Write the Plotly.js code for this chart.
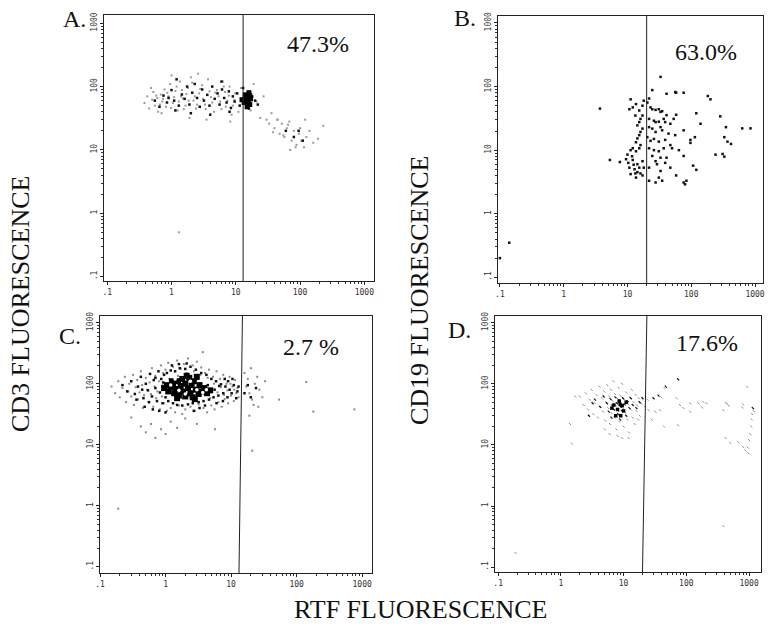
<!DOCTYPE html>
<html>
<head>
<meta charset="utf-8">
<script src="https://cdn.plot.ly/plotly-3.0.1.min.js"></script>
<style>html,body{margin:0;padding:0;background:#fff;}#chart{width:778px;height:629px;}</style>
</head>
<body>
<div id="chart"></div>
<script>
// ---- Data (RTF fluorescence, CD3/CD19 fluorescence) ----
const tickValues = [0.1, 1, 10, 100, 1000];
const tickLabels = ['.1', '1', '10', '100', '1000'];
const minorTicks = [0.2,0.3,0.4,0.5,0.6,0.7,0.8,0.9,2,3,4,5,6,7,8,9,20,30,40,50,60,70,80,90,200,300,400,500,600,700,800,900];

const panelLabels = ['A.', 'B.', 'C.', 'D.'];
const percentLabels = ['47.3%', '63.0%', '2.7 %', '17.6%'];
const gates = [[13, 13], [20, 20], [13.2, 14.9], [20, 23.5]]; // RTF gate, [bottom, top]

// Panel A (CD3 vs RTF)
const aLight = [[0.38,55],[0.42,70],[0.45,45],[0.5,62],[0.52,82],[0.55,50],[0.6,66],[0.62,40],[0.68,75],[0.72,58],[0.78,90],[0.82,48],[0.9,70],[0.95,110],[1.05,55],[1.15,85],[1.25,42],[1.35,120],[1.5,65],[1.65,50],[1.8,95],[2.0,140],[2.2,60],[2.4,45],[2.7,78],[3.0,105],[3.3,52],[3.7,130],[4.1,68],[4.6,40],[5.1,88],[5.7,58],[6.3,120],[7.0,48],[7.8,72],[8.6,36],[9.5,62],[0.48,95],[0.7,38],[1.0,150],[1.4,70],[1.9,32],[2.6,160],[3.5,30],[4.8,80],[6.5,100],[8.2,28],
[0.58,72],[0.66,52],[0.74,64],[0.86,80],[0.98,46],[1.1,68],[1.2,100],[1.3,58],[1.45,88],[1.55,44],[1.7,76],[1.85,60],[2.1,115],[2.3,70],[2.5,52],[2.8,92],[3.1,64],[3.4,44],[3.9,84],[4.3,56],[5.4,70],[6.0,44],[6.8,82],[7.4,60],[8.0,100],[9.0,50],[9.8,78],
[11,40],[12,95],[17,42],[19,110],[21,58],[24,32],[27,70],[30,30],[33,26],[36,38],[40,22],[44,30],[48,18],[52,26],[57,16],[62,22],[68,28],[74,14],[80,20],[88,12],[96,18],[105,14],[115,11],[125,16],[140,20],[160,13],[190,15],[230,24],[45,30],[55,17],[65,25],[85,11],[100,22],[70,10],[38,19],[120,30],[1.3,0.5]];
const aDark = [[0.55,60],[0.65,48],[0.75,72],[0.85,56],[1.0,88],[1.1,60],[1.2,130],[1.3,50],[1.45,75],[1.6,64],[1.75,100],[1.9,52],[2.1,80],[2.3,110],[2.5,66],[2.75,48],[3.0,90],[3.2,60],[3.6,74],[3.9,50],[4.3,100],[4.7,64],[5.2,78],[5.6,52],[6.1,90],[6.6,66],[7.2,56],[7.8,84],[8.4,46],[9.0,70],[9.6,58],[10.5,78],[11.5,50],[13,95],[16,45],[18,70],[20,60],[22,52],[80,16],[95,20],[110,14],[60,20],[1.15,42],[2.0,38],[4.0,36],[6.0,120],[8.0,40],[0.9,66]];
const aDense = [[12.5,62],[13.5,56],[14.5,68],[15.5,60],[16.5,52],[15,48],[17,64],[14,74],[16,80],[15.5,55],[14.5,58],[16.5,72]];

// Panel B (CD19 vs RTF)
const bDots = [[3.7,45],[5.3,7.0],[7.6,6.5],[9.5,7.2],[10,8.5],[10.3,6.3],[11.2,10],[11.8,8],[12.1,7],[12.5,5.9],[12.9,5],[13.3,4.3],[13.6,3.7],[14.3,4.5],[10.7,5.3],[11.2,4.2],[14.3,6],[15.3,5.3],[16,4.3],[17.2,4.0],[18,5.3],[17.2,6.7],[12.1,10.7],[13.6,9.6],[15.3,10.7],[16,12],[13.6,13.3],[14.3,15.3],[15.3,17.2],[16,19.3],[17.2,21.8],[14.3,24.5],[15.3,27.6],[16,31],[17.2,35],[13.3,35],[11.2,63],[13.6,53],[18,60],[12.1,47],[17.2,50],[15.3,42],[10.7,44],
[33,142],[24.5,88],[41,77],[56,82],[58,80],[76,80],[182,71],[200,63],[21.8,65],[20.5,56],[23,47],[24.5,44],[27.6,43],[31,44],[33,40],[35,41],[41,35.5],[58,36],[120,38],[285,34],[21.8,31],[26,29],[27.6,27.6],[31,28],[37,31],[39,27.6],[47,26],[53,31],[21.8,23],[24.5,21.8],[27.6,19.3],[33,23],[35,20.5],[44,18.2],[56,17.2],[76,20.5],[140,26],[20.5,16],[23,14],[26,15],[31,13.6],[39,14.5],[47,12],[50,10.7],[64,10],[97,14.5],[114,16],[97,13],[350,23],[630,22],[850,22],[330,16],[370,13.6],[420,12.5],[240,8.5],[310,8.7],[330,7.9],[21.8,10.7],[26,10],[31,9.6],[37,10.7],[24.5,8.1],[33,7.6],[41,7.6],[27.6,6.7],[39,6.3],[76,8.1],[21.8,5.3],[29,6],[33,4.7],[47,5.3],[58,4.0],[31,3.7],[35,3.3],[21.8,3.3],[27.6,3.1],[107,5.7],[120,4.9],[76,3.1],[84,3.3],[80,2.9],[0.14,0.35],[0.1,0.2]];

// Panel C (CD3 vs RTF)
const cLight = [[0.15,90],[0.17,70],[0.19,110],[0.2,60],[0.22,85],[0.24,130],[0.25,50],[0.27,75],[0.28,100],[0.3,62],[0.32,140],[0.33,45],[0.35,88],[0.37,115],[0.38,55],[0.4,72],[0.42,160],[0.44,95],[0.45,40],[0.47,65],[0.5,125],[0.52,80],[0.55,50],[0.57,105],[0.6,68],[0.62,180],[0.65,42],[0.68,90],[0.7,135],[0.72,58],[0.75,75],[0.8,110],[0.82,38],[0.85,200],[0.88,62],[0.92,150],[0.95,48],[1.0,170],[1.05,36],[1.1,220],[1.2,40],[1.3,190],[1.4,34],[1.5,240],[1.6,44],[1.7,175],[1.8,32],[1.9,210],[2.0,38],[2.2,260],[2.4,42],[2.6,200],[2.8,36],[3.0,230],[3.2,46],[3.5,185],[3.8,40],[4.0,150],[4.3,34],[4.6,170],[5.0,44],[5.3,130],[5.6,38],[6.0,160],[6.4,50],[6.8,120],[7.2,42],[7.6,140],[8.0,56],[8.5,100],[9.0,48],[9.5,130],[10,64],[10.5,90],[11,52],[11.5,115],[12,70],[12.5,85],[13,60],[0.9,95],[1.15,120],[1.35,70],[1.55,135],[1.75,58],[2.1,150],[2.3,62],[2.7,160],[3.1,66],[3.4,140],[3.9,70],[4.4,125],[4.8,58],[5.5,100],[6.2,72],[7.0,88],[7.8,66],[8.8,78],[9.8,100],[11.2,80],
[0.42,20],[0.5,16],[0.6,22],[0.7,13],[0.85,18],[1.0,15],[1.2,24],[1.5,19],[2.0,27],[3.0,22],[5.7,18],[0.3,28],[0.19,0.9],[3.7,330],
[16,150],[17,90],[18,120],[19,70],[20,180],[21,55],[23,100],[25,130],[27,80],[30,60],[33,110],[22,45],[54,55],[140,107],[180,35],[760,38],[21,8],[19,30],[26,42]];
const cDark = [[0.22,95],[0.26,75],[0.3,110],[0.34,68],[0.38,90],[0.42,130],[0.46,58],[0.5,100],[0.54,78],[0.58,145],[0.62,62],[0.66,115],[0.7,85],[0.74,52],[0.78,160],[0.82,72],[0.86,120],[0.9,48],[0.95,140],[1.0,60],[1.05,150],[1.1,52],[1.2,165],[1.3,48],[1.4,160],[1.5,45],[1.65,180],[1.8,44],[2.0,175],[2.2,46],[2.4,190],[2.6,48],[2.9,170],[3.2,50],[3.5,150],[3.8,52],[4.2,140],[4.6,55],[5.0,120],[5.4,60],[5.9,110],[6.4,64],[7.0,98],[7.6,70],[8.2,90],[8.8,60],[9.5,80],[10.2,70],[11,95],[12,58],[0.48,42],[0.64,38],[0.8,36],[1.0,34],[1.25,200],[1.6,210],[2.1,215],[2.7,36],[3.3,40],[4.0,44],[6.0,48],[7.5,52],[9.0,110],[10.5,120],[12.5,75],[13,90],[0.36,55],[0.44,80],[0.56,50],[0.7,125],[0.92,105],[3.0,120],[4.4,95],[5.6,80],[6.6,92],[8.0,120],[16,70],[18,95],[20,60],[24,85]];
const cDense = [[0.95,85],[1.05,95],[1.1,75],[1.2,88],[1.3,100],[1.35,70],[1.45,82],[1.55,110],[1.6,65],[1.7,92],[1.8,120],[1.85,75],[2.0,100],[2.0,62],[2.2,85],[2.3,125],[2.4,70],[2.5,95],[2.6,60],[2.7,110],[2.9,80],[3.0,130],[3.2,68],[3.3,95],[3.6,75],[3.9,85],[4.3,70],[4.8,78],[1.5,58],[2.8,56],[2.1,135],[1.25,110]];
const cHoles = [[1.2,95],[1.6,78],[2.4,110],[3.0,80],[2.0,68],[3.7,72],[4.2,80],[1.4,120]];

// Panel D (CD19 vs RTF)
const dLight = [[2.0,62],[2.3,45],[2.5,70],[2.7,38],[2.9,55],[3.1,80],[3.3,32],[3.5,48],[3.7,66],[3.9,28],[4.1,90],[4.3,42],[4.5,58],[4.7,35],[4.9,75],[5.1,25],[5.3,50],[5.5,95],[5.7,40],[5.9,62],[6.1,22],[6.3,80],[6.5,33],[6.7,52],[6.9,110],[7.1,28],[7.3,68],[7.5,44],[7.7,18],[7.9,58],[8.1,36],[8.3,86],[8.5,24],[8.7,48],[8.9,64],[9.1,30],[9.4,100],[9.7,40],[10,20],[10.3,55],[10.6,34],[11,72],[11.4,26],[11.8,46],[12.2,16],[12.6,60],[13,38],[13.5,80],[14,28],[14.5,50],[15,22],[15.5,66],[16,36],[16.5,44],[17,26],[17.5,58],[18,30],[19,48],[6.0,15],[8.0,14],[9.5,13],[1.5,10.5],[1.4,22],[1.7,62],[5,18],[12,13],
[25,37],[32,35],[38,37],[44,20],[74,21],[70,58],[79,45],[90,40],[115,35],[155,48],[185,51],[45,85],[40,60],[74,120],[115,48],[178,41],[210,48],[22,42],[28,26],[24,55],
[390,37],[430,48],[780,41],[930,89],[440,48],[470,44],[800,46],[420,13],[500,10.8],[680,11],[810,9.2],[880,8.1],[980,7.3],[1150,40],[1120,32],[1100,26],[1080,20],[1050,15],[1000,12],[960,9],[1180,36],[390,0.47],[0.19,0.17]];
const dDark = [[3.5,55],[4.2,42],[4.8,62],[5.4,48],[5.8,35],[6.2,56],[6.6,44],[7.0,38],[7.4,60],[7.8,48],[8.2,32],[8.6,54],[9.0,42],[9.4,36],[9.8,58],[10.4,46],[11,30],[11.6,52],[12.4,40],[13,58],[14,45],[16,40],[18,50],[20,58],[30,58],[36,64],[47,90],[74,118],[2.8,30],[3.2,48],[6.4,28],[8.8,26],[1150,40]];
const dDense = [[7,45],[8,38],[8.5,52],[9,30],[9.5,44],[10,36],[7.5,30],[11,50],[6.5,40],[8.8,46]];

// ---- Layout geometry ----
const W = 778, H = 629;
const px = v => v / W, py = v => 1 - v / H;
const boxes = [ // [left, right, top, bottom] in pixels; axis ranges in log10 units
  {l:104, r:374, t:15,  b:281, xr:[-1.05, 3.15], yr:[-1.07, 3.13]},
  {l:498, r:763, t:16,  b:283, xr:[-1.03, 3.125], yr:[-1.09, 3.11]},
  {l:100, r:372, t:316, b:573, xr:[-1.0, 3.15], yr:[-1.1, 3.11]},
  {l:495, r:761, t:316, b:572, xr:[-1.05, 3.19], yr:[-1.08, 3.11]}
];

function axisBase(range, domain, anchor, isY) {
  return {
    type: 'log', range: range, domain: domain, anchor: anchor,
    showline: true, mirror: true, linecolor: '#222', linewidth: 1,
    ticks: 'outside', ticklen: 3, tickcolor: '#222', tickwidth: 1,
    tickmode: 'array', tickvals: tickValues, ticktext: tickLabels,
    tickangle: isY ? -90 : 0,
    tickfont: {family: 'DejaVu Sans Mono', size: 8, color: '#333'},
    minor: {tickmode: 'array', tickvals: minorTicks, ticks: 'outside', ticklen: 2, tickcolor: '#333', tickwidth: 1},
    showgrid: false, zeroline: false, fixedrange: true
  };
}

const layout = {
  width: W, height: H, margin: {l:0, r:0, t:0, b:0},
  paper_bgcolor: '#fff', plot_bgcolor: '#fff', showlegend: false,
  annotations: [], shapes: []
};
boxes.forEach((bx, i) => {
  const n = i === 0 ? '' : String(i + 1);
  layout['xaxis' + n] = axisBase(bx.xr, [px(bx.l), px(bx.r)], 'y' + n, false);
  layout['yaxis' + n] = axisBase(bx.yr, [py(bx.b), py(bx.t)], 'x' + n, true);
});

const serif = 'Liberation Serif, Times New Roman, serif';
const labelPos = [[74,19],[465,18],[70,336],[460,330]];
const pctPos = [[318,44],[706,52],[311,347],[707,343]];
labelPos.forEach((p, i) => layout.annotations.push({xref:'paper', yref:'paper', x:px(p[0]), y:py(p[1]), text:panelLabels[i], showarrow:false, xanchor:'center', yanchor:'middle', font:{family:serif, size:24, color:'#111'}}));
pctPos.forEach((p, i) => layout.annotations.push({xref:'paper', yref:'paper', x:px(p[0]), y:py(p[1]), text:percentLabels[i], showarrow:false, xanchor:'center', yanchor:'middle', font:{family:serif, size:24, color:'#111'}}));
layout.annotations.push({xref:'paper', yref:'paper', x:px(20), y:py(304), text:'CD3 FLUORESCENCE', textangle:-90, showarrow:false, xanchor:'center', yanchor:'middle', font:{family:serif, size:26, color:'#111'}});
layout.annotations.push({xref:'paper', yref:'paper', x:px(419), y:py(291), text:'CD19 FLUORESCENCE', textangle:-90, showarrow:false, xanchor:'center', yanchor:'middle', font:{family:serif, size:26, color:'#111'}});
layout.annotations.push({xref:'paper', yref:'paper', x:px(421), y:py(609), text:'RTF FLUORESCENCE', showarrow:false, xanchor:'center', yanchor:'middle', font:{family:serif, size:26, color:'#111'}});

// ---- Traces ----
const traces = [];
function dots(pairs, panel, marker) {
  const n = panel === 0 ? '' : String(panel + 1);
  traces.push({type:'scatter', mode:'markers', x:pairs.map(p => p[0]), y:pairs.map(p => p[1]),
    xaxis:'x' + n, yaxis:'y' + n, marker:marker, hoverinfo:'skip'});
}
dots(aLight, 0, {symbol:'square', size:2, color:'#9a9a9a'});
dots(aDark, 0, {symbol:'square', size:2.5, color:'#111'});
dots(aDense, 0, {symbol:'square', size:5, color:'#000'});
dots(bDots, 1, {symbol:'square', size:2.5, color:'#111'});
dots(cLight, 2, {symbol:'square', size:2, color:'#8a8a8a'});
dots(cDark, 2, {symbol:'square', size:2.5, color:'#111'});
dots(cDense, 2, {symbol:'square', size:6, color:'#000'});
dots(cHoles, 2, {symbol:'circle', size:3.5, color:'#fff'});
dots(dLight, 3, {symbol:'line-nw', size:2, line:{width:1, color:'#8a8a8a'}});
dots(dDark, 3, {symbol:'line-nw', size:2, line:{width:1.2, color:'#111'}});
dots(dDense, 3, {symbol:'square', size:3.5, color:'#000'});

// gate lines
gates.forEach((g, i) => {
  const n = i === 0 ? '' : String(i + 1);
  const lo = Math.pow(10, boxes[i].yr[0]), hi = Math.pow(10, boxes[i].yr[1]);
  traces.push({type:'scatter', mode:'lines', x:[g[0], g[1]], y:[lo, hi], xaxis:'x' + n, yaxis:'y' + n,
    line:{color:'#222', width:1}, hoverinfo:'skip'});
});

Plotly.newPlot('chart', traces, layout, {staticPlot:true, displayModeBar:false});
</script>
</body>
</html>
